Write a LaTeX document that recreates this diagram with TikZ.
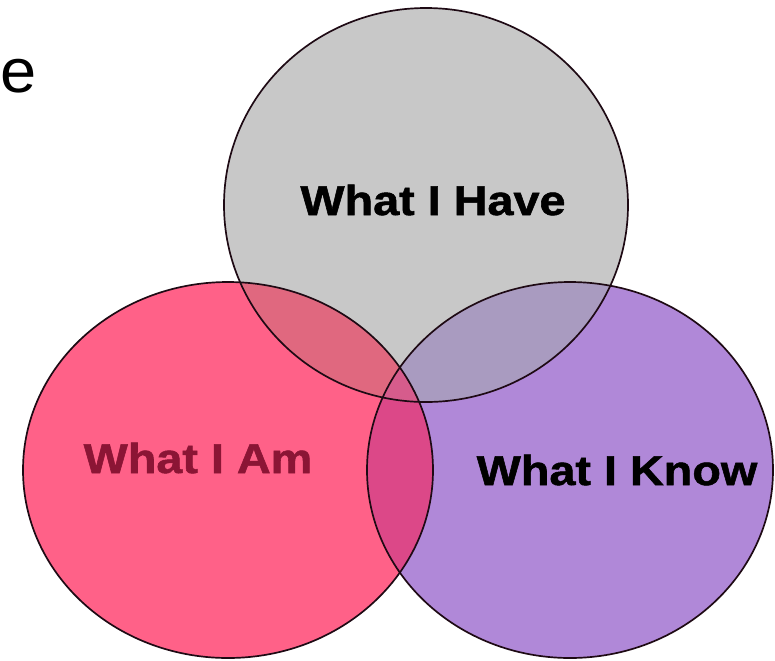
\documentclass[tikz,border=0pt]{standalone}
\usepackage{fontspec}
\setmainfont{Liberation Sans}
\newfontfamily\vennfont{Liberation Sans Bold}[FakeBold=1.2]
\usepackage{xcolor}
\usepackage{tikz}

\definecolor{havegray}{RGB}{200,200,200}
\definecolor{ampink}{RGB}{255,97,136}
\definecolor{knowlilac}{RGB}{176,136,216}
\definecolor{haveam}{RGB}{224,104,127}
\definecolor{haveknow}{RGB}{169,155,192}
\definecolor{amknow}{RGB}{220,72,136}
\definecolor{allthree}{RGB}{214,92,140}
\definecolor{amtext}{RGB}{139,21,53}
\definecolor{rim}{RGB}{30,10,20}

\newcommand{\havearea}{(426,205) ellipse [x radius=202, y radius=197]}
\newcommand{\amarea}{(228,470) ellipse [x radius=205, y radius=188]}
\newcommand{\knowarea}{(570,470) ellipse [x radius=203, y radius=188]}

\begin{document}
\begin{tikzpicture}[x=0.025cm, y=-0.025cm, font=\vennfont\fontsize{29.7}{34}\selectfont]

\useasboundingbox (0,0) rectangle (775,660);

\fill[havegray] \havearea;
\fill[ampink] \amarea;
\fill[knowlilac] \knowarea;

% overlaps
\begin{scope}
\clip \havearea;
\fill[haveam] \amarea;
\fill[haveknow] \knowarea;
\end{scope}
\begin{scope}
\clip \amarea;
\fill[amknow] \knowarea;
\clip \knowarea;
\fill[allthree] \havearea;
\end{scope}

\draw[rim, line width=1.2pt] \havearea;
\draw[rim, line width=1.2pt] \amarea;
\draw[rim, line width=1.2pt] \knowarea;

\node[anchor=base] (have) at (433,215) {\scalebox{1.12}[1]{What I Have}};
\node[anchor=base, text=amtext] (am) at (198,473) {\scalebox{1.12}[1]{What I Am}};
\node[anchor=base] (know) at (617,485) {\scalebox{1.12}[1]{What I Know}};
\node[anchor=base west, inner sep=0pt, font=\rmfamily\fontsize{44}{50}\selectfont] (e) at (0,92) {\scalebox{1.05}[1]{e}};

\end{tikzpicture}
\end{document}
